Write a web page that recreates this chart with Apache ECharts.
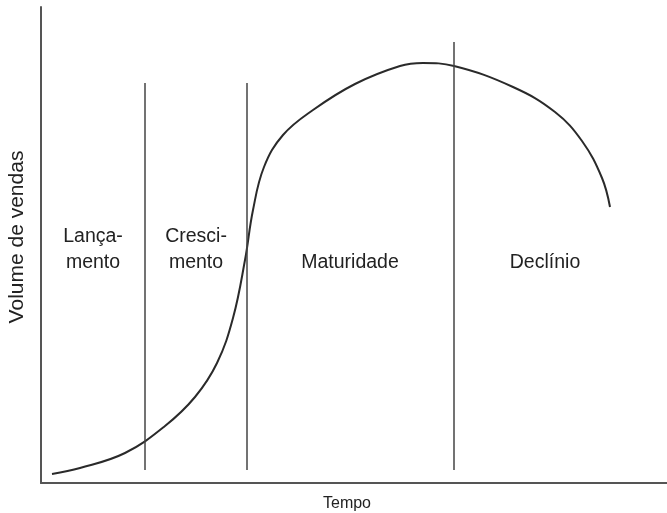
<!DOCTYPE html>
<html>
<head>
<meta charset="utf-8">
<script src="https://cdn.jsdelivr.net/npm/echarts@6/dist/echarts.min.js"></script>
<style>
  html, body { margin: 0; padding: 0; background: #fff; }
  #main { width: 667px; height: 513px; }
</style>
</head>
<body>
<div id="main"></div>
<script>
// curva do ciclo de vida (tempo, volume)
var curveTempo  = [11, 39, 84, 124, 154, 176, 192, 204, 212, 223, 242, 272, 314, 359, 382, 413, 472, 514, 541, 561, 569];
var curveVolume = [9, 15, 30, 57, 86, 120, 165, 223, 273, 316, 348, 373, 399, 417, 420, 417, 396, 371, 342, 305, 276];

// limites entre as fases
var phaseX   = [104, 206, 413];
var phaseLow = [13, 13, 13];
var phaseTop = [400, 400, 441];

var phaseNames = ['Lança-\nmento', 'Cresci-\nmento', 'Maturidade', 'Declínio'];

var myChart = echarts.init(document.getElementById('main'));

var series = [{
    type: 'line',
    data: curveTempo.map(function (t, i) { return [t, curveVolume[i]]; }),
    smooth: 0.4,
    showSymbol: false,
    lineStyle: { color: '#2a2a2a', width: 2 },
    silent: true
}];
phaseX.forEach(function (x, i) {
    series.push({
        type: 'line',
        data: [[x, phaseLow[i]], [x, phaseTop[i]]],
        showSymbol: false,
        lineStyle: { color: '#444', width: 1.5 },
        silent: true
    });
});

var font = 'Liberation Sans, Arial, sans-serif';
var textStyle = { fill: '#222', fontSize: 19.5, fontFamily: font, textAlign: 'center', lineHeight: 26 };
var labelPos = [[93, 224], [196, 224], [350, 250], [545, 250]];

myChart.setOption({
    animation: false,
    grid: { left: 41, right: 0, top: 7, bottom: 30, containLabel: false, outerBoundsMode: 'none' },
    xAxis: {
        type: 'value', min: 0, max: 626,
        name: 'Tempo', nameLocation: 'middle', nameGap: 10,
        nameTextStyle: { color: '#222', fontSize: 16, fontFamily: font, padding: [3, 14, 0, 0] },
        axisLine: { show: true, onZero: false, lineStyle: { color: '#555', width: 2 } },
        axisTick: { show: false }, axisLabel: { show: false }, splitLine: { show: false }
    },
    yAxis: {
        type: 'value', min: 0, max: 476,
        name: 'Volume de vendas', nameLocation: 'middle', nameGap: 13, nameRotate: 90,
        nameTextStyle: { color: '#222', fontSize: 21, fontFamily: font, padding: [0, 0, 0, 16] },
        axisLine: { show: true, onZero: false, lineStyle: { color: '#555', width: 2 } },
        axisTick: { show: false }, axisLabel: { show: false }, splitLine: { show: false }
    },
    graphic: phaseNames.map(function (n, i) {
        return {
            type: 'text', x: labelPos[i][0], y: labelPos[i][1],
            style: Object.assign({ text: n }, textStyle)
        };
    }),
    series: series
});
</script>
</body>
</html>
